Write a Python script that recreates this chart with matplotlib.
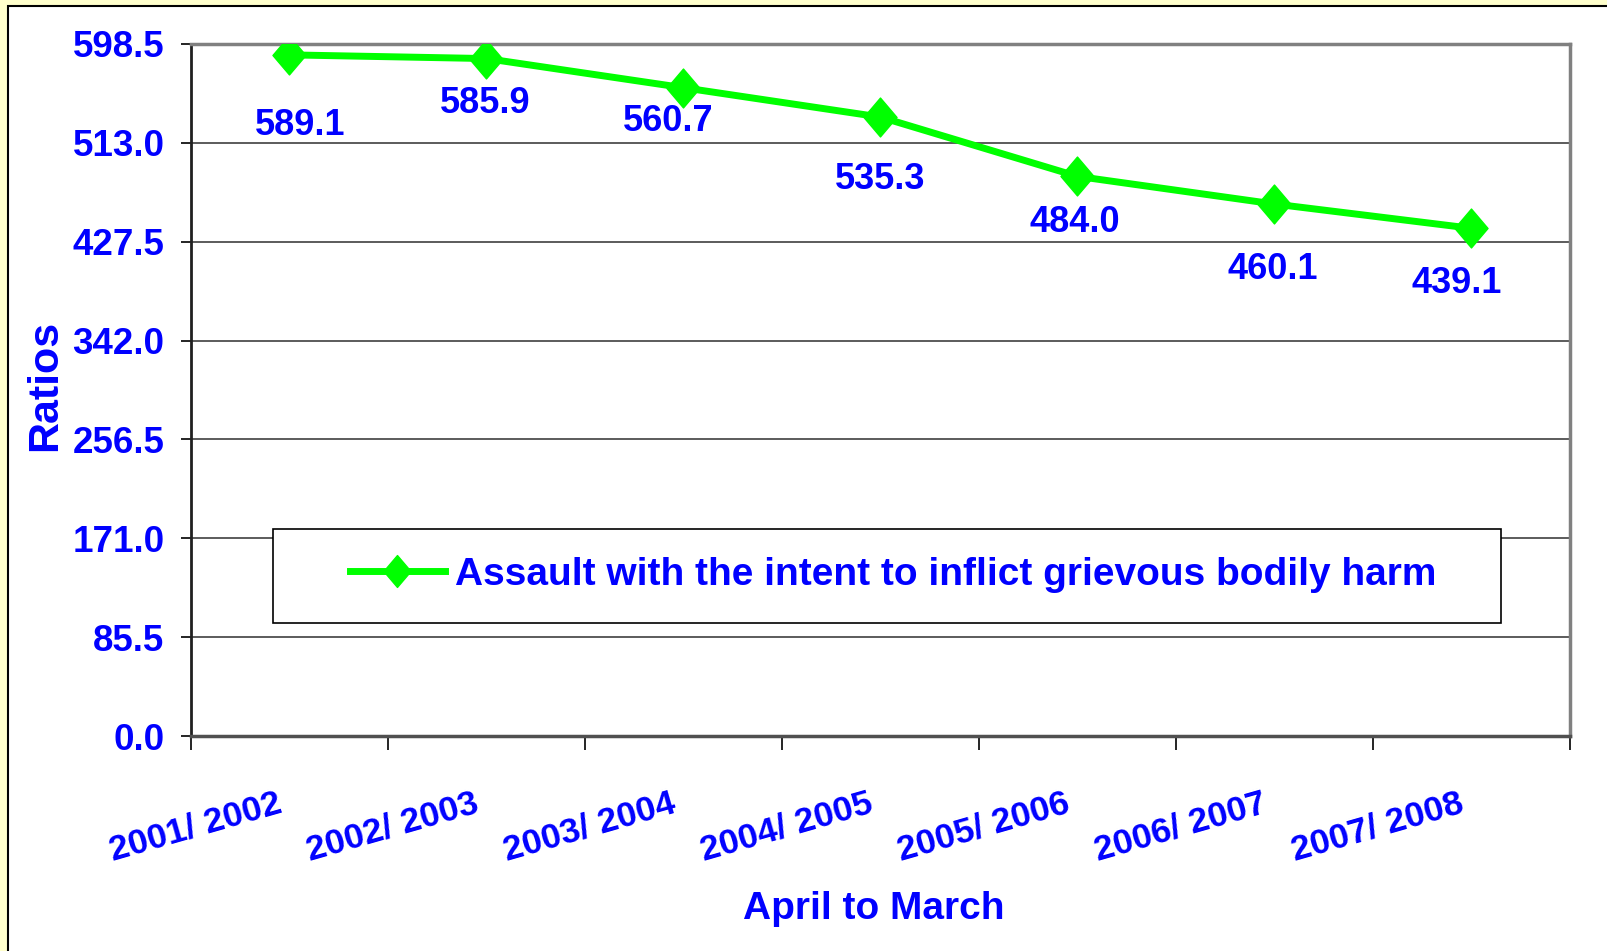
import numpy as np
import matplotlib.pyplot as plt
import matplotlib.transforms as mtransforms
from matplotlib.patches import Rectangle
from matplotlib.path import Path

# données
periods = ["2001/ 2002", "2002/ 2003", "2003/ 2004", "2004/ 2005",
           "2005/ 2006", "2006/ 2007", "2007/ 2008"]
ratios = [589.1, 585.9, 560.7, 535.3, 484.0, 460.1, 439.1]
yticks = [0.0, 85.5, 171.0, 256.5, 342.0, 427.5, 513.0, 598.5]
series_name = "Assault with the intent to inflict grievous bodily harm"

# décalage des étiquettes (points)
label_offsets = [(8, -51), (-1, -32), (-11, -24), (0, -45),
                 (-2, -33), (-1, -47), (-11, -40)]

blue = "#0000FF"
green = "#00FF00"
plt.rcParams["font.family"] = ["Liberation Sans", "DejaVu Sans"]
plt.rcParams["font.weight"] = "bold"

fig = plt.figure(figsize=(16.08, 9.51), dpi=100)
fig.patch.set_facecolor("#FFFFCC")
fig.patches.append(Rectangle((8 / 1608, -0.01), 1.0, 1 - 6 / 951 + 0.01,
                             transform=fig.transFigure, facecolor="white",
                             edgecolor="black", lw=1.5, zorder=-10))

ax = fig.add_axes([191 / 1608, 1 - 736 / 951, 1379 / 1608, 692 / 951])
ax.set_facecolor("white")

diamond = Path([(0, 1), (0.85, 0), (0, -1), (-0.85, 0), (0, 1)],
               [Path.MOVETO, Path.LINETO, Path.LINETO, Path.LINETO, Path.CLOSEPOLY])

x = np.arange(len(periods)) + 0.5
line, = ax.plot(x, ratios, color=green, lw=5, marker=diamond, ms=28,
                mfc=green, mec=green, label=series_name, zorder=4)

for xi, v, off in zip(x, ratios, label_offsets):
    ax.annotate(f"{v:.1f}", (xi, v), xytext=off, textcoords="offset points",
                ha="center", va="center", color=blue, fontsize=26,
                fontweight="bold", zorder=5)

ax.set_xlim(0, len(periods))
ax.set_ylim(0, 598.5)
ax.set_yticks(yticks)
ax.set_yticklabels([f"{t:.1f}" for t in yticks])
ax.set_xticks(x)
ax.set_xticklabels(periods, rotation=16, ha="right", va="top",
                   rotation_mode="anchor")
ax.set_xticks(np.arange(len(periods) + 1), minor=True)
ax.tick_params(axis="x", which="major", length=0, pad=36.4, labelsize=25.5,
               labelcolor=blue)
ax.tick_params(axis="x", which="minor", length=10, width=1.2, direction="out",
               color="black")
ax.tick_params(axis="y", length=7, width=1.2, direction="out", pad=12,
               labelsize=26.5, labelcolor=blue)
shift = mtransforms.ScaledTranslation(-9.5 / 72, 0, fig.dpi_scale_trans)
for lbl in ax.get_xticklabels():
    lbl.set_transform(lbl.get_transform() + shift)

ax.grid(axis="y", color="#404040", lw=1.2, zorder=1)
ax.set_axisbelow(True)

for s in ["top", "right"]:
    ax.spines[s].set_color("#808080")
    ax.spines[s].set_linewidth(2.5)
ax.spines["left"].set_color("#202020")
ax.spines["left"].set_linewidth(2)
ax.spines["bottom"].set_color("#505050")
ax.spines["bottom"].set_linewidth(2.5)

ax.set_ylabel("Ratios", color=blue, fontsize=31, fontweight="bold")
ax.yaxis.set_label_coords(-0.0914, 0.507)
ax.set_xlabel("April to March", color=blue, fontsize=28, fontweight="bold")
ax.xaxis.set_label_coords(0.495, -0.2236)

# cadre de la légende
ax.add_patch(Rectangle((82 / 1379, 113 / 692), 1228 / 1379, 94 / 692,
                       transform=ax.transAxes, facecolor="white",
                       edgecolor="black", lw=1.2, zorder=3))
leg = ax.legend(loc="center", bbox_to_anchor=(0.509, 0.233), frameon=False,
                fontsize=28, handlelength=2.45, handletextpad=0.26,
                markerscale=0.82)
leg.set_zorder(6)
for t in leg.get_texts():
    t.set_color(blue)
    t.set_fontweight("bold")

fig.savefig("out.png", dpi=100, facecolor=fig.get_facecolor())
